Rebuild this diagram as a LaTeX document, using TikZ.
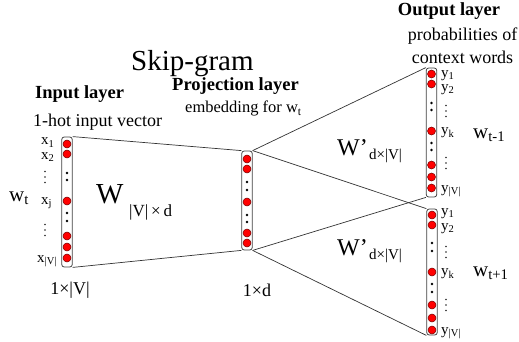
\documentclass[tikz,border=0pt]{standalone}
\usepackage{fontspec}
\setmainfont{Liberation Serif}
\begin{document}
\begin{tikzpicture}[x=1pt,y=-1pt,
  layerbox/.style={draw=black!75, rounded corners=2.5pt, line width=0.8pt, minimum width=10.5pt, inner sep=0pt, fill=white},
  neuron/.style={circle, fill=red, draw=red!45!black, line width=0.5pt, minimum size=8pt, inner sep=0pt},
  dotn/.style={circle, fill=black, minimum size=2.6pt, inner sep=0pt},
  vdot/.style={circle, fill=black!85, minimum size=1.7pt, inner sep=0pt},
  conn/.style={draw=black!80, line width=0.7pt},
  lbl/.style={font=\fontsize{15}{15}\selectfont, inner sep=0pt},
  txt/.style={font=\fontsize{18}{18}\selectfont, inner sep=0pt},
  head/.style={font=\bfseries\fontsize{18.5}{18.5}\selectfont, inner sep=0pt},
  word/.style={font=\fontsize{21}{21}\selectfont, inner sep=0pt},
]
\useasboundingbox (0,0) rectangle (519,342);

% boxes
\node[layerbox, minimum height=130pt] (in) at (67,202) {};
\node[layerbox, minimum height=99pt] (proj) at (247,200.5) {};
\node[layerbox, minimum height=129pt] (out1) at (431.5,132.5) {};
\node[layerbox, minimum height=126pt] (out2) at (432,272) {};

% connectors
\draw[conn] (in.north east) -- (proj.north west);
\draw[conn] (in.south east) -- (proj.south west);
\draw[conn] (proj.north east) -- (out1.north west);
\draw[conn] (proj.north east) -- (out2.north west);
\draw[conn] (proj.south east) -- (out1.south west);
\draw[conn] (proj.south east) -- (out2.south west);

% neurons
\foreach \y in {144,154,201,236,247,258} \node[neuron] (in-\y) at (67,\y) {};
\foreach \y in {173,180,213,221} \node[dotn] (ind-\y) at (67,\y) {};
\foreach \y in {159,169,202,233,243} \node[neuron] (pr-\y) at (247,\y) {};
\foreach \y in {182,190,215,222} \node[dotn] (prd-\y) at (247,\y) {};
\foreach \y in {74,84,131,165,177,188} \node[neuron] (oa-\y) at (431.5,\y) {};
\foreach \y in {103,110,143,150} \node[dotn] (oad-\y) at (431.5,\y) {};
\foreach \y in {215,225,272,305,318,330} \node[neuron] (ob-\y) at (432,\y) {};
\foreach \y in {243,251,284,292} \node[dotn] (obd-\y) at (432,\y) {};

% vertical ellipses beside the labels
\foreach \x/\y [count=\i] in {45/177, 45/230, 446/111, 446/163, 446/252, 446/305}
  \foreach \d in {-5.5,0,5.5} \node[vdot] (ve-\i-\d) at (\x,\y+\d) {};

% input labels
\node[lbl, anchor=west] (x1) at (41,142.5) {x\textsubscript{1}};
\node[lbl, anchor=west] (x2) at (41,157) {x\textsubscript{2}};
\node[lbl, anchor=west] (xj) at (41,203) {x\textsubscript{j}};
\node[lbl, anchor=west] (xV) at (37,261) {x\textsubscript{|V|}};

% output labels 1
\node[lbl, anchor=west] (ya1) at (441,75.5) {y\textsubscript{1}};
\node[lbl, anchor=west] (ya2) at (441,89.5) {y\textsubscript{2}};
\node[lbl, anchor=west] (yak) at (441,133) {y\textsubscript{k}};
\node[lbl, anchor=west] (yaV) at (441,191) {y\textsubscript{|V|}};

% output labels 2
\node[lbl, anchor=west] (yb1) at (441,214) {y\textsubscript{1}};
\node[lbl, anchor=west] (yb2) at (441,228.5) {y\textsubscript{2}};
\node[lbl, anchor=west] (ybk) at (441,274) {y\textsubscript{k}};
\node[lbl, anchor=west] (ybV) at (441,333) {y\textsubscript{|V|}};

% titles
\node[font=\fontsize{29}{29}\selectfont, inner sep=0pt, anchor=west] (title) at (131,63.5) {Skip-gram};
\node[head, anchor=west] (inhead) at (35,94) {Input layer};
\node[txt, anchor=west] (intxt) at (33,122) {1-hot input vector};
\node[head, anchor=west] (prhead) at (172,86) {Projection layer};
\node[font=\fontsize{16.5}{16.5}\selectfont, inner sep=0pt, anchor=west] (prtxt) at (185,108.5) {embedding for w\textsubscript{t}};
\node[head] (outhead) at (449,11) {Output layer};
\node[txt] (outtxt1) at (462.5,36.5) {probabilities of};
\node[txt] (outtxt2) at (462.5,57) {context words};

% words
\node[word, anchor=west] (wt) at (9,198) {w\textsubscript{t}};
\node[word, anchor=west] (wtm) at (473,135) {w\textsubscript{t-1}};
\node[word, anchor=west] (wtp) at (473,273) {w\textsubscript{t+1}};

% matrices
\node[font=\fontsize{29}{29}\selectfont, inner sep=0pt, anchor=west] (W) at (96,194) {W};
\node[font=\fontsize{17}{17}\selectfont, inner sep=0pt, anchor=west] (Wsub) at (129,212) {|V|\,×\,d};
\node[font=\fontsize{24}{24}\selectfont, inner sep=0pt, anchor=west] (Wa) at (337,148) {W’};
\node[font=\fontsize{15}{15}\selectfont, inner sep=0pt, anchor=west] (Wasub) at (369,156) {d×|V|};
\node[font=\fontsize{24}{24}\selectfont, inner sep=0pt, anchor=west] (Wb) at (337,248) {W’};
\node[font=\fontsize{15}{15}\selectfont, inner sep=0pt, anchor=west] (Wbsub) at (369,256) {d×|V|};

% dimensions
\node[txt] (dimin) at (70,290) {1×|V|};
\node[txt] (dimpr) at (257,290) {1×d};
\end{tikzpicture}
\end{document}
